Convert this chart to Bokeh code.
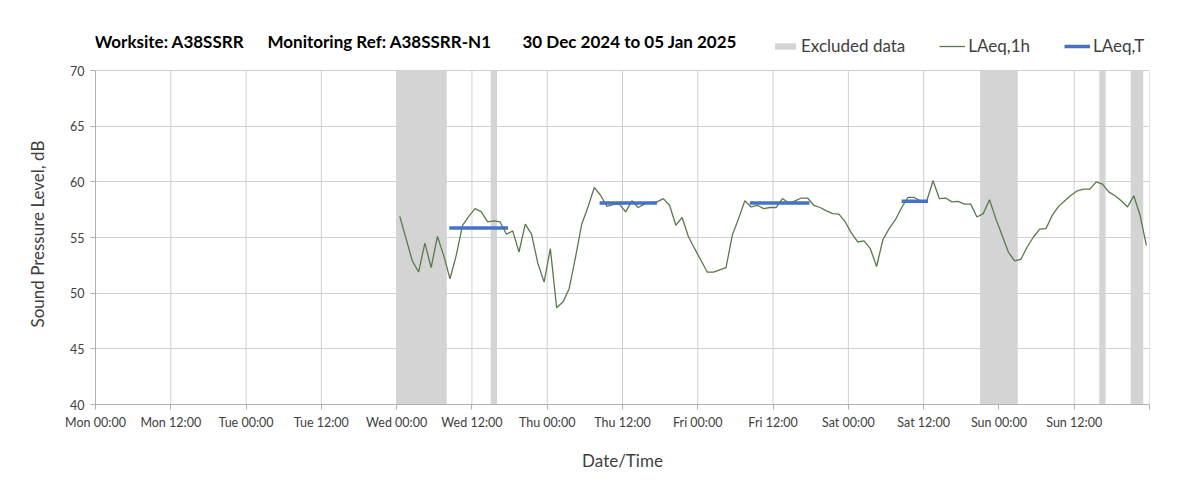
from bokeh.plotting import figure
from bokeh.models import FixedTicker, Legend, LegendItem, Label, Range1d, Title
from bokeh.embed import file_html
from bokeh.resources import INLINE

# ---------------- data ----------------
tick_hours = [0, 12, 24, 36, 48, 60, 72, 84, 96, 108, 120, 132, 144, 156, 168]
tick_labels = ["Mon 00:00", "Mon 12:00", "Tue 00:00", "Tue 12:00", "Wed 00:00", "Wed 12:00",
               "Thu 00:00", "Thu 12:00", "Fri 00:00", "Fri 12:00", "Sat 00:00", "Sat 12:00",
               "Sun 00:00", "Sun 12:00", ""]
y_ticks = [40, 45, 50, 55, 60, 65, 70]

# hourly LAeq,1h values, first hour = Wed 00:00 (hour 48 of the week)
laeq_1h_first_hour = 48
laeq_1h = [
    56.9, 54.9, 52.9, 51.9, 54.5, 52.3, 55.1, 53.4, 51.3, 53.4, 56.1, 56.9,   # Wed 00-11
    57.6, 57.3, 56.4, 56.5, 56.4, 55.3, 55.6, 53.7, 56.2, 55.3, 52.7, 51.0,   # Wed 12-23
    54.0, 48.7, 49.2, 50.4, 53.2, 56.2, 57.75, 59.5, 58.8, 57.8, 57.95, 58.0,  # Thu 00-11
    57.3, 58.3, 57.7, 58.0, 58.15, 58.2, 58.5, 57.9, 56.1, 56.8, 55.1, 54.0,  # Thu 12-23
    52.96, 51.9, 51.9, 52.1, 52.3, 55.2, 56.7, 58.3, 57.75, 57.9, 57.6, 57.7,  # Fri 00-11
    57.7, 58.5, 58.1, 58.3, 58.55, 58.55, 57.9, 57.7, 57.4, 57.15, 57.1, 56.4,  # Fri 12-23
    55.4, 54.6, 54.7, 54.0, 52.4, 54.8, 55.8, 56.6, 57.7, 58.6, 58.6, 58.3,   # Sat 00-11
    58.3, 60.1, 58.5, 58.55, 58.2, 58.25, 58.0, 58.0, 56.85, 57.15, 58.4, 56.7,  # Sat 12-23
    55.2, 53.7, 52.9, 53.05, 54.15, 55.05, 55.75, 55.8, 57.0, 57.8, 58.3, 58.8,  # Sun 00-11
    59.2, 59.35, 59.35, 60.0, 59.8, 59.1, 58.75, 58.3, 57.75, 58.75, 57.0, 54.3,  # Sun 12-23
]

excl_start = [48, 63, 141, 160, 165]
excl_end = [56, 64, 147, 161, 167]

laeqT_start = [56.4, 80.35, 104.3, 128.5]
laeqT_end = [65.75, 89.5, 113.8, 132.7]
laeqT = [55.85, 58.1, 58.1, 58.25]

title_parts = ["Worksite: A38SSRR", "Monitoring Ref: A38SSRR-N1", "30 Dec 2024 to 05 Jan 2025"]

# ---------------- plot ----------------
FONT = "Lato"
Y_MIN, Y_MAX = y_ticks[0], y_ticks[-1]
x_mid = [laeq_1h_first_hour + i + 0.5 for i in range(len(laeq_1h))]

# frame extends above 70 dB to host the title/legend row (kept unclipped)
p = figure(width=1195, height=484, output_backend="svg", toolbar_location=None,
           x_range=Range1d(0, 168), y_range=Range1d(40, 74.5),
           min_border_left=95, min_border_right=46, min_border_top=20, min_border_bottom=80)
p.frame_width = 1054
p.frame_height = 384
p.outline_line_color = None
p.background_fill_color = "white"
p.border_fill_color = "white"

# gridlines
p.xgrid.visible = False
p.segment(x0=tick_hours, x1=tick_hours, y0=[Y_MIN] * len(tick_hours), y1=[Y_MAX] * len(tick_hours),
          line_color="#d0d0d0", line_width=1)
p.ygrid.ticker = FixedTicker(ticks=y_ticks)
p.ygrid.grid_line_color = "#d0d0d0"

bands = p.quad(left=excl_start, right=excl_end, bottom=[Y_MIN] * len(excl_start), top=[Y_MAX] * len(excl_start),
               fill_color="#d4d4d4", line_color=None)
line = p.line(x_mid, laeq_1h, line_color="#5a7a4a", line_width=1.3)
segs = p.segment(x0=laeqT_start, x1=laeqT_end, y0=laeqT, y1=laeqT, line_color="#4472c4", line_width=3.5)

# axes
p.xaxis.ticker = FixedTicker(ticks=tick_hours)
p.xaxis.major_label_overrides = {h: lab for h, lab in zip(tick_hours, tick_labels)}
p.yaxis.ticker = FixedTicker(ticks=y_ticks)
p.yaxis.bounds = (Y_MIN, Y_MAX)
for ax in (p.xaxis[0], p.yaxis[0]):
    ax.axis_line_color = "#b0b0b0"
    ax.major_tick_line_color = "#b0b0b0"
    ax.major_tick_out = 5
    ax.major_tick_in = 0
    ax.minor_tick_line_color = None
    ax.major_label_text_font = FONT
    ax.major_label_text_font_size = "12.5px"
    ax.major_label_text_color = "#404040"
    ax.axis_label_text_font = FONT
    ax.axis_label_text_font_size = "17px"
    ax.axis_label_text_font_style = "normal"
    ax.axis_label_text_color = "#404040"
p.xaxis.axis_label = "Date/Time"
p.xaxis.major_label_standoff = 5
p.yaxis.major_label_standoff = 6
p.xaxis.axis_label_standoff = 17

# y-axis title as a left-side Title, placed along the 40-70 dB span
y_title = Title(text="Sound Pressure Level, dB", align="left", offset=77, standoff=40,
                text_font=FONT, text_font_size="17px", text_font_style="normal", text_color="#404040")
p.add_layout(y_title, "left")

# title pieces (screen units relative to frame bottom-left)
for xpos, txt in zip([-1, 172, 427], title_parts):
    p.add_layout(Label(x=xpos, y=363, x_units="screen", y_units="screen", text=txt,
                       text_font=FONT, text_font_size="17px", text_font_style="bold",
                       text_color="black", text_baseline="middle"))

legend = Legend(items=[LegendItem(label="Excluded data", renderers=[bands]),
                       LegendItem(label="LAeq,1h", renderers=[line]),
                       LegendItem(label="LAeq,T", renderers=[segs])],
                orientation="horizontal", location=(677, 348),
                glyph_width=26, glyph_height=8, label_standoff=3, spacing=34,
                padding=0, margin=0, border_line_color=None, background_fill_alpha=0,
                label_text_font=FONT, label_text_font_size="17px", label_text_color="#404040")
p.add_layout(legend, "center")

open("out.html", "w").write(file_html(p, INLINE))
